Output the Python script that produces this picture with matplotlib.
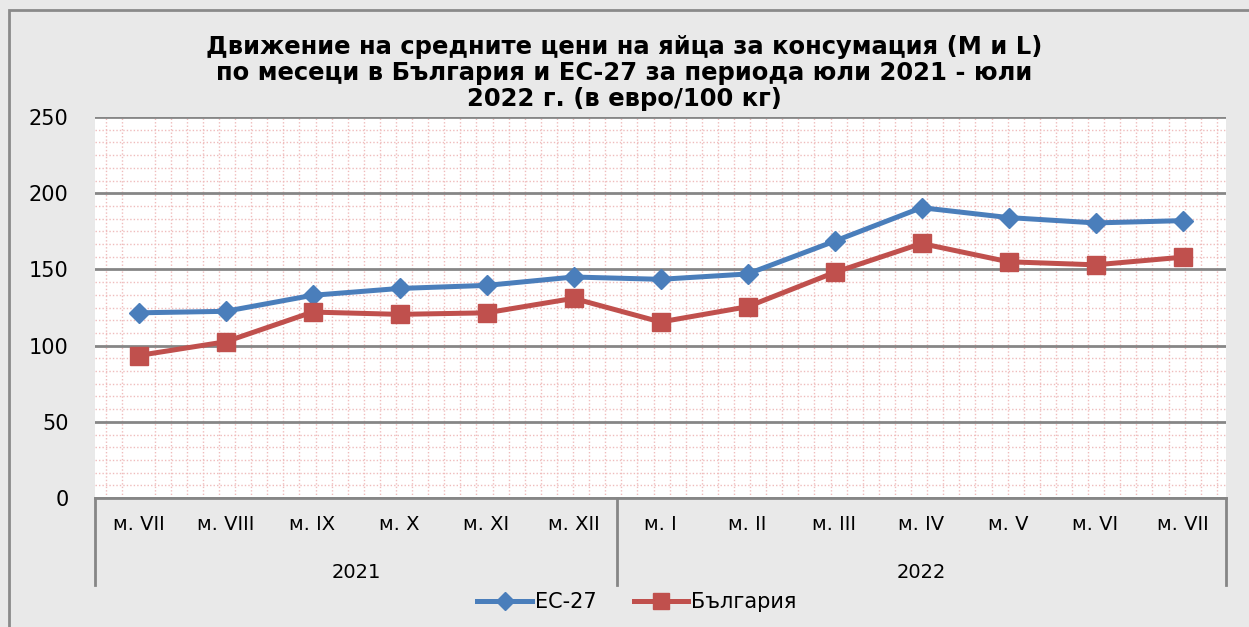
import numpy as np
import matplotlib
matplotlib.use("Agg")
import matplotlib.pyplot as plt
from matplotlib.ticker import MultipleLocator
from matplotlib.lines import Line2D
from matplotlib.patches import Rectangle

# Data (euro / 100 kg)
months = ["м. VII", "м. VIII", "м. IX", "м. X", "м. XI", "м. XII",
          "м. I", "м. II", "м. III", "м. IV", "м. V", "м. VI", "м. VII"]
years = ["2021", "2022"]
year_counts = [6, 7]
eu27 = [121.5, 122.5, 133, 137.5, 139.5, 145, 143.5, 147, 168.5, 190.5, 184, 180.5, 182]
bulgaria = [93.5, 102.5, 122, 120.5, 121.5, 131, 115.5, 125.5, 148, 167, 155, 153, 158]

title = ("Движение на средните цени на яйца за консумация (M и L)\n"
         "по месеци в България и ЕС-27 за периода юли 2021 - юли\n"
         "2022 г. (в евро/100 кг)")

blue = "#4a7ebb"
red = "#c0504d"
grid_gray = "#868686"

plt.rcParams['font.family'] = ['DejaVu Sans']

fig = plt.figure(figsize=(12.49, 6.27), dpi=100)
fig.patch.set_facecolor("#e9e9e9")

# outer frame (only top/left visible in the reference)
fig.add_artist(Rectangle((9 / 1249, -0.1), 1.2, 1 - 10 / 627 + 0.1,
                         transform=fig.transFigure, fill=False,
                         edgecolor="#8a8a8a", linewidth=2))

ax = fig.add_axes([95 / 1249, 1 - 498 / 627, (1226 - 95) / 1249, (498 - 117) / 627])
ax.set_facecolor("white")

x = np.arange(len(months))
ax.set_xlim(-0.5, len(months) - 0.5)
ax.set_ylim(0, 250)

# pink pattern grid
ax.yaxis.set_minor_locator(MultipleLocator(50 / 6))
ax.xaxis.set_minor_locator(MultipleLocator(0.185))
ax.grid(which="minor", color="#efbcbc", linestyle=(0, (1, 1.5)), linewidth=1)
ax.yaxis.set_major_locator(MultipleLocator(50))
ax.grid(which="major", axis="y", color=grid_gray, linewidth=2)
ax.set_axisbelow(True)

ax.plot(x, eu27, color=blue, linewidth=3.6, marker="D", markersize=10.5,
        markerfacecolor=blue, markeredgecolor=blue, label="ЕС-27", zorder=3)
ax.plot(x, bulgaria, color=red, linewidth=3.6, marker="s", markersize=12.5,
        markerfacecolor=red, markeredgecolor=red, label="България", zorder=3)

for s in ["left", "right", "top"]:
    ax.spines[s].set_visible(False)
ax.spines["bottom"].set_color(grid_gray)
ax.spines["bottom"].set_linewidth(2)

ax.tick_params(axis="both", which="both", length=0)
ax.tick_params(axis="y", labelsize=15, pad=19)
ax.set_xticks(x)
ax.set_xticklabels(months, fontsize=14)
ax.tick_params(axis="x", pad=12)

# multi-level category axis: year groups with separators
sep_len = 87 / 381  # in axes fraction of height
start = 0
bounds = [-0.5]
for yr, n in zip(years, year_counts):
    center = start + (n - 1) / 2
    ax.text(center, -0.195, yr, transform=ax.get_xaxis_transform(),
            ha="center", va="center", fontsize=14)
    start += n
    bounds.append(start - 0.5)
for b in bounds:
    ax.plot([b, b], [0, -sep_len], transform=ax.get_xaxis_transform(),
            color=grid_gray, linewidth=2, clip_on=False)

fig.text(0.5, 1 - 73 / 627, title, ha="center", va="center",
         fontsize=17.5, fontweight="bold", linespacing=1.12)

handles = [Line2D([], [], color=blue, linewidth=3.6, marker="D", markersize=9),
           Line2D([], [], color=red, linewidth=3.6, marker="s", markersize=12)]
fig.legend(handles, ["ЕС-27", "България"], loc="center",
           bbox_to_anchor=(0.51, 1 - 602 / 627), ncol=2, frameon=False,
           fontsize=15, handlelength=2.6, handletextpad=0.15, columnspacing=1.8)

fig.savefig("out.png", dpi=100, facecolor=fig.get_facecolor())
